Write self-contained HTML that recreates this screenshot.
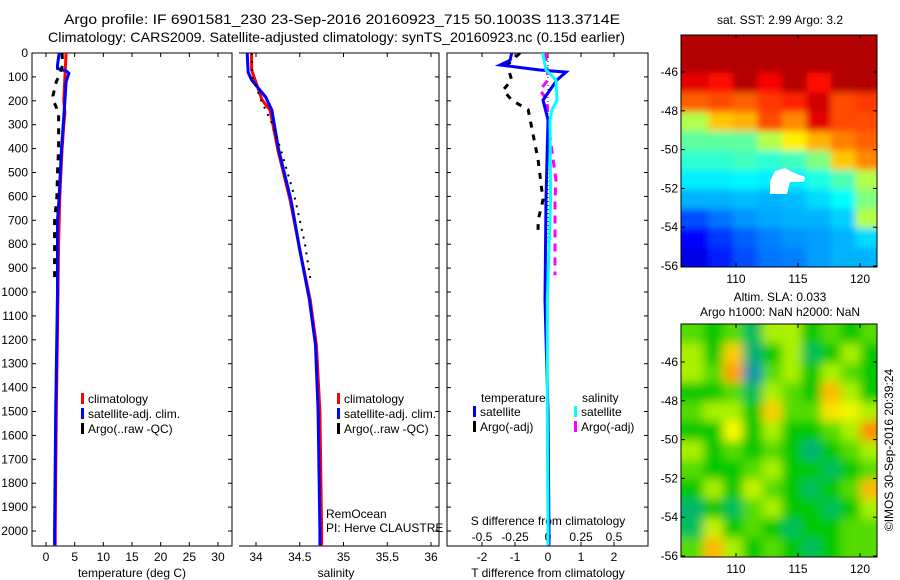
<!DOCTYPE html>
<html><head><meta charset="utf-8"><style>
body{margin:0;background:#fff;}
svg{display:block;font-family:"Liberation Sans",sans-serif;}
</style></head><body>
<svg id="c" width="900" height="580" viewBox="0 0 900 580">
<defs>
<clipPath id="cp1"><rect x="32" y="53" width="200" height="493"/></clipPath>
<clipPath id="cp2"><rect x="239" y="53" width="200" height="493"/></clipPath>
<clipPath id="cp3"><rect x="447" y="53" width="201" height="493"/></clipPath>
<clipPath id="cpm1"><rect x="681" y="35" width="196" height="232"/></clipPath>
<clipPath id="cpm2"><rect x="681" y="324" width="196" height="233"/></clipPath>
<filter id="bl" x="-5%" y="-5%" width="110%" height="110%"><feGaussianBlur stdDeviation="5"/></filter>
<filter id="bl2" x="-5%" y="-5%" width="110%" height="110%"><feGaussianBlur stdDeviation="3.5"/></filter>
</defs>
<text x="64" y="24" font-size="14" textLength="556" lengthAdjust="spacingAndGlyphs">Argo profile: IF 6901581_230 23-Sep-2016 20160923_715 50.1003S 113.3714E</text>
<text x="48" y="42" font-size="14" textLength="577" lengthAdjust="spacingAndGlyphs">Climatology: CARS2009. Satellite-adjusted climatology: synTS_20160923.nc (0.15d earlier)</text>
<g id="g1"></g>
<g id="g2"></g>
<g id="g3"></g>
<g id="gm1"></g>
<g id="gm2"></g>
<text x="780" y="24" font-size="12" text-anchor="middle">sat. SST: 2.99 Argo: 3.2</text>
<text x="780" y="301" font-size="12" text-anchor="middle">Altim. SLA: 0.033</text>
<text x="780" y="316" font-size="12" text-anchor="middle">Argo h1000: NaN h2000: NaN</text>
<text transform="translate(893,450) rotate(-90)" font-size="12" text-anchor="middle">©IMOS 30-Sep-2016 20:39:24</text>
</svg>
<script>
// ---- data ----
const depthTicks=[0,100,200,300,400,500,600,700,800,900,1000,1100,1200,1300,1400,1500,1600,1700,1800,1900,2000];
const tempTicks=[0,5,10,15,20,25,30];
const salTicks=[34,34.5,35,35.5,36];
const salTickLabels=["34","34.5","35","35.5","36"];
const tdiffTicks=[-2,-1,0,1,2];
const sdiffTicks=[-0.5,-0.25,0,0.25,0.5];
const sdiffTickLabels=["-0.5","-0.25","0","0.25","0.5"];

const tClimDepth=[0,100,200,250,300,400,500,600,800,1000,1500,2000,2060];
const tClimVal=[3.5,3.3,3.1,3.3,3.1,2.8,2.6,2.4,2.2,2.1,1.8,1.6,1.6];
const tSatDepth=[0,50,65,75,85,120,200,300,400,500,600,700,1000,1500,2000,2060];
const tSatVal=[2.3,2.0,2.0,3.5,4.0,3.5,3.3,3.0,2.7,2.5,2.3,2.0,2.0,1.7,1.5,1.5];
const tArgoDepth=[0,50,90,120,180,200,250,300,400,500,600,700,900,950];
const tArgoVal=[2.8,2.9,2.4,1.8,1.2,1.3,2.2,2.2,2.2,2.0,1.9,1.5,1.5,1.5];

const sClimDepth=[0,71,155,197,238,406,615,824,1033,1222,1500,2000,2060];
const sClimVal=[33.95,33.95,34.03,34.07,34.16,34.25,34.39,34.50,34.62,34.69,34.73,34.75,34.75];
const sSatDepth=[0,80,113,184,238,406,615,824,1033,1222,1500,2000,2060];
const sSatVal=[33.90,33.91,33.95,34.11,34.18,34.26,34.40,34.50,34.61,34.68,34.71,34.73,34.73];
const sArgoDepth=[0,100,200,300,400,500,600,700,800,941];
const sArgoVal=[33.95,33.96,34.06,34.19,34.28,34.36,34.44,34.5,34.56,34.62];

const dTSatDepth=[0,30,50,71,80,113,197,280,615,1033,1500,2000,2060];
const dTSatVal=[-1.1,-1.15,-1.45,-0.25,0.55,0.27,-0.15,0,-0.06,-0.09,0.0,0.03,0.03];
const dSSatDepth=[0,71,113,197,238,280,615,1033,1500,2000,2060];
const dSSatVal=[-0.04,-0.015,0.06,0.068,0.03,0.015,0.02,-0.005,-0.005,0.0,0.0];
const dTArgoDepth=[0,50,113,155,197,238,322,447,615,699,740];
const dTArgoVal=[-0.85,-1.24,-1.1,-1.36,-1.1,-0.6,-0.48,-0.3,-0.15,-0.3,-0.3];
const dSArgoDepth=[0,113,155,197,322,530,615,824,908,930];
const dSArgoVal=[-0.02,0.0,-0.06,-0.008,0.008,0.06,0.053,0.053,0.053,0.053];

const latTicks=[-46,-48,-50,-52,-54,-56];
const lonTicks=[110,115,120];
const sstGrid=[
[0.95,0.95,0.95,0.95,0.95,0.95,0.95,0.95],
[0.95,0.95,0.95,0.95,0.95,0.95,0.95,0.95],
[0.9,0.86,0.95,0.88,0.95,0.86,0.95,0.95],
[0.78,0.8,0.78,0.82,0.84,0.92,0.8,0.82],
[0.55,0.68,0.7,0.8,0.74,0.9,0.8,0.8],
[0.47,0.47,0.47,0.55,0.64,0.7,0.75,0.78],
[0.42,0.42,0.44,0.42,0.44,0.5,0.68,0.74],
[0.36,0.36,0.37,0.36,0.36,0.4,0.45,0.55],
[0.3,0.3,0.31,0.3,0.31,0.34,0.38,0.5],
[0.2,0.24,0.27,0.29,0.3,0.3,0.33,0.55],
[0.13,0.18,0.22,0.25,0.27,0.28,0.3,0.34],
[0.1,0.15,0.2,0.24,0.25,0.28,0.3,0.3]];
const slaGrid=[
[.55,.5,.55,.45,.6,.6,.5,.55,.5,.55],
[.6,.5,.7,.4,.5,.6,.45,.5,.6,.5],
[.6,.55,.74,.3,.55,.6,.5,.6,.55,.5],
[.5,.5,.55,.45,.6,.55,.5,.72,.6,.5],
[.55,.6,.6,.5,.7,.55,.55,.68,.65,.6],
[.5,.5,.66,.5,.6,.5,.5,.55,.6,.76],
[.6,.5,.55,.5,.55,.5,.4,.5,.55,.6],
[.55,.5,.5,.55,.6,.5,.5,.45,.5,.55],
[.5,.6,.5,.62,.55,.5,.45,.5,.55,.72],
[.42,.5,.45,.55,.6,.5,.5,.45,.5,.6],
[.45,.62,.5,.55,.5,.45,.5,.5,.55,.55],
[.55,.72,.6,.5,.55,.5,.45,.5,.55,.55]];

// ---- scales ----
const NS="http://www.w3.org/2000/svg";
const Y=d=>53+d*0.239;
const XT=t=>46+t*5.733;
const XS=s=>256+(s-34)*87.5;
const XdT=t=>548+t*33;
const XdS=s=>548+s*132;
const latY1=l=>72+(-46-l)*19.4;
const latY2=l=>362+(-46-l)*19.4;
const lonX=l=>736+(l-110)*12.4;
function el(p,t,a){const e=document.createElementNS(NS,t);for(const k in a)e.setAttribute(k,a[k]);p.appendChild(e);return e;}
function txt(p,x,y,s,anc,fs){const e=el(p,'text',{x:x,y:y,'font-size':fs||12,'text-anchor':anc||'start'});e.textContent=s;return e;}
function line(p,xf,ds,vs,col,w,dash,clip){
  const pts=ds.map((d,i)=>xf(vs[i]).toFixed(1)+','+Y(d).toFixed(1)).join(' ');
  const a={points:pts,fill:'none',stroke:col,'stroke-width':w,'clip-path':'url(#'+clip+')'};
  if(dash)a['stroke-dasharray']=dash;
  return el(p,'polyline',a);
}
// ---- panel 1 ----
const g1=document.getElementById('g1');
const f1=el(g1,'rect',{x:32,y:53,width:200,height:493,fill:'none',stroke:'#000','stroke-width':1});


depthTicks.forEach(d=>{
  el(g1,'line',{x1:32,x2:36,y1:Y(d),y2:Y(d),stroke:'#000'});
  el(g1,'line',{x1:228,x2:232,y1:Y(d),y2:Y(d),stroke:'#000'});
  const t=txt(g1,28,Y(d)+4,String(d),'end');
  
  
});
tempTicks.forEach(v=>{
  el(g1,'line',{x1:XT(v),x2:XT(v),y1:546,y2:542,stroke:'#000'});
  el(g1,'line',{x1:XT(v),x2:XT(v),y1:53,y2:57,stroke:'#000'});
  const t=txt(g1,XT(v),561,String(v),'middle');
  
  
});
const xt1=txt(g1,132,577,'temperature (deg C)','middle');


const l1a=line(g1,XT,tClimDepth,tClimVal,'#f00',3,null,'cp1');


const l1b=line(g1,XT,tSatDepth,tSatVal,'#00f',3,null,'cp1');


const l1c=line(g1,XT,tArgoDepth,tArgoVal,'#000',3,'6,7','cp1');


function legend(p,x,y,items,nm){
  items.forEach((it,i)=>{
    el(p,'rect',{x:x,y:y+i*15-10,width:3,height:11,fill:it[1]});
    const t=txt(p,x+7,y+i*15,it[0],'start');
    
    
  });
}
legend(g1,81,403,[['climatology','#f00'],['satellite-adj. clim.','#00f'],['Argo(..raw -QC)','#000']],'temperature');
// ---- panel 2 ----
const g2=document.getElementById('g2');
el(g2,'polyline',{points:'239,53 439,53 439,546 239,546',fill:'none',stroke:'#000'});
depthTicks.forEach(d=>{el(g2,'line',{x1:435,x2:439,y1:Y(d),y2:Y(d),stroke:'#000'});});
salTicks.forEach((v,i)=>{
  el(g2,'line',{x1:XS(v),x2:XS(v),y1:546,y2:542,stroke:'#000'});
  el(g2,'line',{x1:XS(v),x2:XS(v),y1:53,y2:57,stroke:'#000'});
  const t=txt(g2,XS(v),561,salTickLabels[i],'middle');
  
  
});
const xt2=txt(g2,336,577,'salinity','middle');


const l2a=line(g2,XS,sClimDepth,sClimVal,'#f00',3,null,'cp2');


const l2b=line(g2,XS,sSatDepth,sSatVal,'#00f',3,null,'cp2');


const l2c=line(g2,XS,sArgoDepth,sArgoVal,'#000',2,'2,6','cp2');


legend(g2,337,403,[['climatology','#f00'],['satellite-adj. clim.','#00f'],['Argo(..raw -QC)','#000']],'salinity');
const rm=txt(g2,326,518,'RemOcean');


const pi=txt(g2,326,532,'PI: Herve CLAUSTRE');


// ---- panel 3 ----
const g3=document.getElementById('g3');
el(g3,'rect',{x:447,y:53,width:201,height:493,fill:'none',stroke:'#000'});
depthTicks.forEach(d=>{
  el(g3,'line',{x1:447,x2:451,y1:Y(d),y2:Y(d),stroke:'#000'});
  el(g3,'line',{x1:644,x2:648,y1:Y(d),y2:Y(d),stroke:'#000'});
});
tdiffTicks.forEach(v=>{
  el(g3,'line',{x1:XdT(v),x2:XdT(v),y1:546,y2:542,stroke:'#000'});
  el(g3,'line',{x1:XdT(v),x2:XdT(v),y1:53,y2:57,stroke:'#000'});
  const t=txt(g3,XdT(v),561,String(v),'middle');
  
  
});
sdiffTicks.forEach((v,i)=>{
  const t=txt(g3,XdS(v),541,sdiffTickLabels[i],'middle');
  
  
});
el(g3,'line',{x1:548,x2:548,y1:53,y2:546,stroke:'#000','stroke-dasharray':'1,3'});
const st3=txt(g3,548,525,'S difference from climatology','middle');


const tt3=txt(g3,548,577,'T difference from climatology','middle');


const l3d=line(g3,XdS,dSArgoDepth,dSArgoVal,'#f0f',3,'8,6','cp3');


const l3c=line(g3,XdT,dTArgoDepth,dTArgoVal,'#000',3,'6,7','cp3');


const l3a=line(g3,XdT,dTSatDepth,dTSatVal,'#00f',3,null,'cp3');


const l3b=line(g3,XdS,dSSatDepth,dSSatVal,'#0ff',3,null,'cp3');


const hT=txt(g3,481,402,'temperature');


const hS=txt(g3,582,402,'salinity');


legend(g3,473,416,[['satellite','#00f'],['Argo(-adj)','#000']],'tdiff');
legend(g3,574,416,[['satellite','#0ff'],['Argo(-adj)','#f0f']],'sdiff');
// ---- maps ----
function jet(x){const c=v=>Math.round(255*Math.max(0,Math.min(1,v)));
  return 'rgb('+c(1.5-Math.abs(4*x-3))+','+c(1.5-Math.abs(4*x-2))+','+c(1.5-Math.abs(4*x-1))+')';}
function slaCol(x){const st=[[0.3,[0,150,170]],[0.45,[0,190,90]],[0.5,[0,200,0]],[0.6,[170,240,0]],[0.66,[250,250,0]],[0.76,[255,140,0]]];
  if(x<=st[0][0])return 'rgb('+st[0][1]+')';
  for(let i=1;i<st.length;i++){if(x<=st[i][0]){const f=(x-st[i-1][0])/(st[i][0]-st[i-1][0]);
    const c=st[i-1][1].map((v,k)=>Math.round(v+f*(st[i][1][k]-v)));return 'rgb('+c+')';}}
  return 'rgb('+st[st.length-1][1]+')';}
function map(gid,grid,y0,h,cmap,clip,filt,ly){
  const g=document.getElementById(gid);
  const inner=el(g,'g',{'clip-path':'url(#'+clip+')'});
  const cells=el(inner,'g',filt?{filter:'url(#'+filt+')'}:{});
  const rows=grid.length,cols=grid[0].length;
  const lonA=105.8,lonB=121.6,latA=-44.05,latB=-56.05;
  grid.forEach((row,r)=>row.forEach((v,c)=>{
    const x1=lonX(lonA+(lonB-lonA)*c/cols)-(c==0?12:0),x2=lonX(lonA+(lonB-lonA)*(c+1)/cols)+(c==cols-1?12:0);
    const yA=ly(latA+(latB-latA)*r/rows)-(r==0?12:0),yB=ly(latA+(latB-latA)*(r+1)/rows)+(r==rows-1?12:0);
    const cell=el(cells,'rect',{x:x1.toFixed(1),y:yA.toFixed(1),width:(x2-x1+0.6).toFixed(1),height:(yB-yA+0.6).toFixed(1),fill:cmap(v)});
    
    
  }));
  el(g,'rect',{x:681,y:y0,width:196,height:h,fill:'none',stroke:'#000'});
  latTicks.forEach(l=>{
    el(g,'line',{x1:681,x2:685,y1:ly(l),y2:ly(l),stroke:'#000'});
    el(g,'line',{x1:873,x2:877,y1:ly(l),y2:ly(l),stroke:'#000'});
    const t=txt(g,678,ly(l)+4,String(l),'end');
    
    
  });
  lonTicks.forEach(l=>{
    el(g,'line',{x1:lonX(l),x2:lonX(l),y1:y0,y2:y0+4,stroke:'#000'});
    el(g,'line',{x1:lonX(l),x2:lonX(l),y1:y0+h,y2:y0+h-4,stroke:'#000'});
    const t=txt(g,lonX(l),y0+h+16,String(l),'middle');
    
    
  });
  return inner;
}
const m1=map('gm1',sstGrid,35,232,jet,'cpm1','bl2',latY1);
const hole=el(m1,'polygon',{points:'770,181 775,171 785,168 792,172 805,177 804,182 790,182 787,194 770,194',fill:'#fff'});


map('gm2',slaGrid,324,233,slaCol,'cpm2','bl',latY2);
</script>
</body></html>
